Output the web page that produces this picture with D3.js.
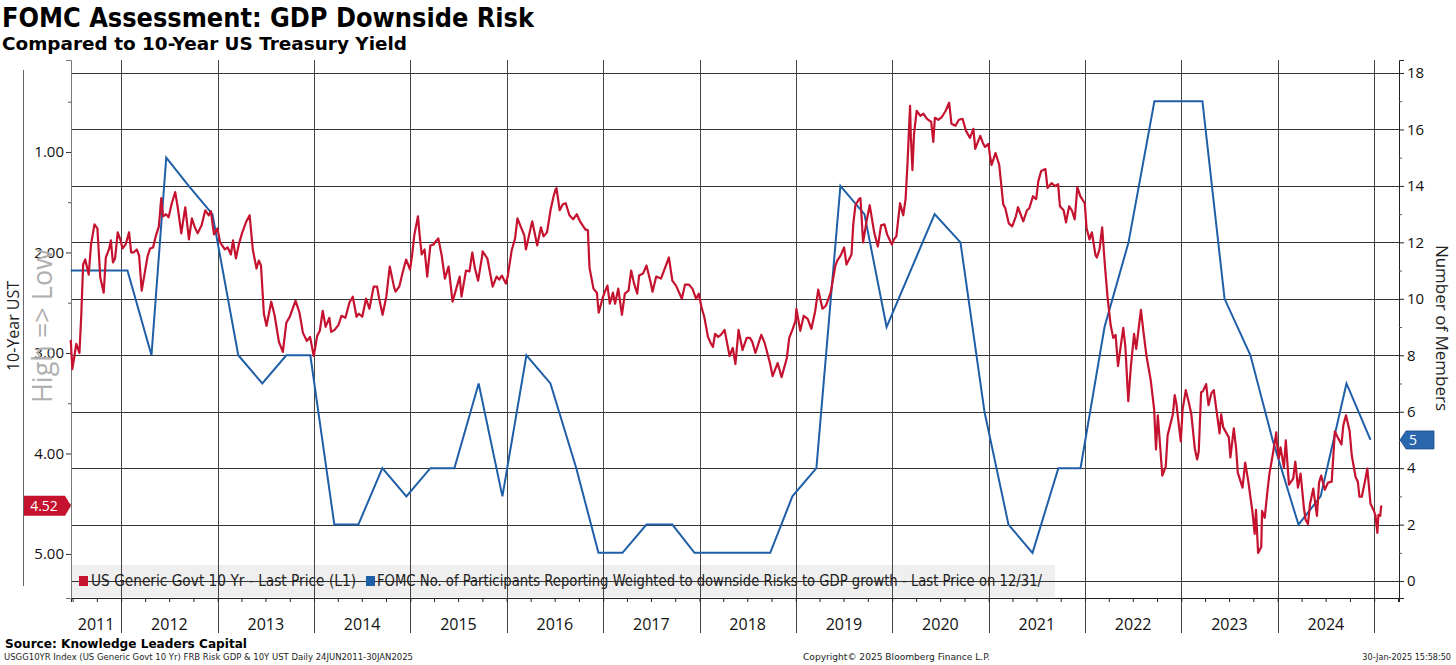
<!DOCTYPE html>
<html>
<head>
<meta charset="utf-8">
<script src="https://cdn.jsdelivr.net/npm/d3@7"></script>
<style>
  body { margin: 0; background: #fff; }
</style>
</head>
<body>
<div id="d3-container"></div>
<script>
// 10-year UST yield (date, % yield)
const yld2011 = [["2011-06-24",2.87],["2011-06-30",3.16],["2011-07-08",3.03],["2011-07-15",2.91],["2011-07-27",3.00],["2011-08-03",2.62],["2011-08-10",2.12],["2011-08-18",2.07],["2011-08-31",2.22],["2011-09-09",1.92],["2011-09-22",1.72],["2011-10-03",1.76],["2011-10-14",2.25],["2011-10-27",2.40],["2011-11-04",2.05],["2011-11-17",1.96],["2011-11-23",1.88],["2011-12-01",2.10],["2011-12-09",2.06],["2011-12-19",1.80],["2011-12-30",1.88]];
const yld2012 = [["2012-01-06",1.96],["2012-01-18",1.92],["2012-01-31",1.80],["2012-02-08",2.00],["2012-02-17",2.00],["2012-02-29",1.97],["2012-03-09",2.03],["2012-03-19",2.38],["2012-03-30",2.21],["2012-04-10",2.04],["2012-04-20",1.96],["2012-05-01",1.95],["2012-05-11",1.84],["2012-05-23",1.74],["2012-06-01",1.46],["2012-06-08",1.64],["2012-06-19",1.62],["2012-06-29",1.65],["2012-07-11",1.51],["2012-07-24",1.40],["2012-08-03",1.56],["2012-08-16",1.81],["2012-08-31",1.55],["2012-09-14",1.87],["2012-09-25",1.66],["2012-10-05",1.74],["2012-10-17",1.81],["2012-11-01",1.73],["2012-11-15",1.58],["2012-11-28",1.63],["2012-12-06",1.59],["2012-12-18",1.82],["2012-12-31",1.76]];
const yld2013 = [["2013-01-10",1.90],["2013-01-28",1.97],["2013-02-08",1.95],["2013-02-20",2.02],["2013-02-28",1.88],["2013-03-11",2.06],["2013-03-22",1.92],["2013-04-03",1.81],["2013-04-18",1.70],["2013-05-02",1.63],["2013-05-14",1.97],["2013-05-28",2.16],["2013-06-06",2.08],["2013-06-14",2.13],["2013-06-25",2.61],["2013-07-05",2.73],["2013-07-23",2.49],["2013-08-05",2.63],["2013-08-21",2.89],["2013-09-05",2.99],["2013-09-18",2.70],["2013-10-01",2.64],["2013-10-23",2.48],["2013-11-07",2.60],["2013-11-20",2.80],["2013-12-05",2.88],["2013-12-17",2.84],["2013-12-31",3.03]];
const yld2014 = [["2014-01-13",2.83],["2014-01-23",2.78],["2014-02-03",2.58],["2014-02-14",2.74],["2014-02-28",2.65],["2014-03-07",2.79],["2014-03-20",2.77],["2014-04-04",2.72],["2014-04-15",2.63],["2014-04-30",2.65],["2014-05-15",2.50],["2014-05-28",2.44],["2014-06-11",2.64],["2014-06-20",2.61],["2014-07-03",2.64],["2014-07-17",2.46],["2014-07-30",2.56],["2014-08-15",2.34],["2014-08-28",2.34],["2014-09-05",2.46],["2014-09-18",2.62],["2014-10-02",2.44],["2014-10-15",2.14],["2014-10-31",2.34],["2014-11-06",2.39],["2014-11-20",2.34],["2014-12-01",2.22],["2014-12-16",2.07],["2014-12-31",2.17]];
const yld2015 = [["2015-01-08",2.02],["2015-01-16",1.83],["2015-01-30",1.64],["2015-02-05",1.82],["2015-02-13",2.02],["2015-02-24",1.97],["2015-03-06",2.24],["2015-03-18",1.93],["2015-03-31",1.92],["2015-04-07",1.89],["2015-04-17",1.86],["2015-04-30",2.03],["2015-05-12",2.26],["2015-05-26",2.14],["2015-06-10",2.49],["2015-06-22",2.38],["2015-07-07",2.24],["2015-07-14",2.44],["2015-07-31",2.18],["2015-08-13",2.19],["2015-08-24",2.00],["2015-09-03",2.16],["2015-09-15",2.28],["2015-09-30",2.04],["2015-10-02",1.99],["2015-10-20",2.06],["2015-11-09",2.34],["2015-11-24",2.24],["2015-12-04",2.27],["2015-12-14",2.23],["2015-12-29",2.31]];
const yld2016 = [["2016-01-05",2.24],["2016-01-20",1.98],["2016-02-02",1.86],["2016-02-11",1.66],["2016-02-23",1.74],["2016-03-08",1.83],["2016-03-14",1.97],["2016-03-31",1.77],["2016-04-07",1.69],["2016-04-26",1.93],["2016-05-10",1.75],["2016-05-20",1.84],["2016-06-02",1.80],["2016-06-16",1.57],["2016-06-27",1.44],["2016-07-05",1.37],["2016-07-08",1.36],["2016-07-20",1.58],["2016-08-01",1.52],["2016-08-12",1.51],["2016-08-26",1.63],["2016-09-09",1.67],["2016-09-23",1.62],["2016-10-05",1.69],["2016-10-25",1.77],["2016-11-04",1.78],["2016-11-10",2.15],["2016-11-25",2.36],["2016-12-08",2.40],["2016-12-15",2.60],["2016-12-30",2.45]];
const yld2017 = [["2017-01-09",2.38],["2017-01-17",2.33],["2017-01-26",2.51],["2017-02-07",2.40],["2017-02-15",2.51],["2017-02-27",2.36],["2017-03-13",2.62],["2017-03-24",2.41],["2017-04-07",2.38],["2017-04-17",2.18],["2017-04-27",2.30],["2017-05-10",2.41],["2017-05-17",2.23],["2017-06-01",2.21],["2017-06-14",2.13],["2017-06-30",2.30],["2017-07-07",2.39],["2017-07-21",2.24],["2017-08-08",2.26],["2017-08-18",2.19],["2017-09-07",2.05],["2017-09-20",2.28],["2017-10-04",2.33],["2017-10-26",2.46],["2017-11-07",2.32],["2017-11-22",2.32],["2017-12-05",2.36],["2017-12-19",2.46],["2017-12-29",2.41]];
const yld2018 = [["2018-01-09",2.55],["2018-01-19",2.64],["2018-02-02",2.84],["2018-02-14",2.91],["2018-02-21",2.94],["2018-03-01",2.81],["2018-03-13",2.84],["2018-03-23",2.82],["2018-04-06",2.77],["2018-04-25",3.03],["2018-05-07",2.95],["2018-05-17",3.11],["2018-05-29",2.77],["2018-06-13",2.97],["2018-06-29",2.85],["2018-07-11",2.85],["2018-07-20",2.89],["2018-08-01",3.00],["2018-08-23",2.82],["2018-09-05",2.90],["2018-09-25",3.10],["2018-10-05",3.23],["2018-10-24",3.10],["2018-11-08",3.24],["2018-11-28",3.05],["2018-12-07",2.85],["2018-12-19",2.77],["2018-12-31",2.68]];
const yld2019 = [["2019-01-03",2.56],["2019-01-18",2.78],["2019-01-31",2.63],["2019-02-15",2.66],["2019-03-01",2.76],["2019-03-15",2.59],["2019-03-27",2.37],["2019-04-12",2.56],["2019-04-25",2.53],["2019-05-13",2.40],["2019-05-31",2.13],["2019-06-07",2.08],["2019-06-20",2.03],["2019-07-03",1.95],["2019-07-12",2.12],["2019-07-31",2.02],["2019-08-07",1.71],["2019-08-15",1.53],["2019-08-28",1.47],["2019-09-03",1.46],["2019-09-13",1.90],["2019-09-26",1.69],["2019-10-08",1.53],["2019-10-25",1.80],["2019-11-08",1.94],["2019-11-20",1.73],["2019-12-03",1.72],["2019-12-13",1.82],["2019-12-31",1.92]];
const yld2020 = [["2020-01-08",1.87],["2020-01-17",1.84],["2020-01-31",1.51],["2020-02-12",1.63],["2020-02-21",1.47],["2020-02-28",1.13],["2020-03-06",0.71],["2020-03-09",0.54],["2020-03-12",0.85],["2020-03-18",1.18],["2020-03-24",0.82],["2020-04-03",0.59],["2020-04-17",0.64],["2020-04-29",0.62],["2020-05-12",0.67],["2020-05-28",0.70],["2020-06-05",0.90],["2020-06-11",0.66],["2020-06-24",0.68],["2020-07-08",0.65],["2020-07-22",0.59],["2020-08-04",0.51],["2020-08-13",0.72],["2020-08-28",0.74],["2020-09-10",0.68],["2020-09-24",0.67],["2020-10-07",0.79],["2020-10-22",0.86],["2020-11-04",0.77],["2020-11-11",0.97],["2020-11-30",0.84],["2020-12-10",0.91],["2020-12-18",0.95],["2020-12-31",0.92]];
const yld2021 = [["2021-01-06",1.04],["2021-01-12",1.13],["2021-01-27",1.01],["2021-02-10",1.13],["2021-02-25",1.52],["2021-03-05",1.56],["2021-03-18",1.71],["2021-03-31",1.74],["2021-04-14",1.64],["2021-04-22",1.55],["2021-05-12",1.69],["2021-05-26",1.58],["2021-06-04",1.56],["2021-06-18",1.44],["2021-06-30",1.47],["2021-07-08",1.29],["2021-07-19",1.19],["2021-08-04",1.17],["2021-08-12",1.36],["2021-08-27",1.31],["2021-09-10",1.34],["2021-09-21",1.32],["2021-09-28",1.54],["2021-10-12",1.58],["2021-10-21",1.70],["2021-11-02",1.54],["2021-11-12",1.58],["2021-11-23",1.67],["2021-12-03",1.35],["2021-12-14",1.44],["2021-12-31",1.51]];
const yld2022 = [["2022-01-07",1.76],["2022-01-18",1.87],["2022-01-27",1.80],["2022-02-10",2.03],["2022-02-15",2.05],["2022-02-25",1.97],["2022-03-07",1.75],["2022-03-18",2.15],["2022-03-28",2.46],["2022-04-08",2.72],["2022-04-18",2.85],["2022-04-27",2.82],["2022-05-06",3.13],["2022-05-26",2.75],["2022-06-03",2.94],["2022-06-14",3.48],["2022-06-24",3.13],["2022-07-06",2.81],["2022-07-14",2.96],["2022-08-01",2.57],["2022-08-10",2.78],["2022-08-22",3.03],["2022-09-07",3.27],["2022-09-20",3.56],["2022-09-27",3.96],["2022-10-04",3.62],["2022-10-21",4.22],["2022-11-03",4.13],["2022-11-10",3.82],["2022-11-30",3.61],["2022-12-07",3.42],["2022-12-13",3.50],["2022-12-30",3.88]];
const yld2023 = [["2023-01-06",3.56],["2023-01-18",3.37],["2023-01-31",3.51],["2023-02-08",3.61],["2023-02-21",3.95],["2023-03-02",4.06],["2023-03-08",3.98],["2023-03-17",3.39],["2023-03-24",3.38],["2023-04-05",3.31],["2023-04-14",3.52],["2023-04-25",3.40],["2023-05-04",3.37],["2023-05-26",3.80],["2023-06-01",3.61],["2023-06-09",3.74],["2023-06-30",3.84],["2023-07-06",4.04],["2023-07-19",3.75],["2023-07-28",3.96],["2023-08-03",4.19],["2023-08-21",4.34],["2023-08-31",4.09],["2023-09-12",4.28],["2023-09-28",4.59],["2023-10-06",4.80],["2023-10-11",4.56],["2023-10-19",4.99],["2023-10-31",4.93],["2023-11-03",4.57],["2023-11-13",4.64],["2023-11-22",4.41],["2023-12-01",4.20],["2023-12-13",4.02],["2023-12-27",3.79],["2023-12-29",3.88]];
const yld2024 = [["2024-01-05",4.05],["2024-01-12",3.94],["2024-01-25",4.14],["2024-02-01",3.87],["2024-02-13",4.31],["2024-02-29",4.25],["2024-03-08",4.08],["2024-03-18",4.34],["2024-03-28",4.20],["2024-04-10",4.55],["2024-04-16",4.66],["2024-04-25",4.70],["2024-05-03",4.50],["2024-05-15",4.35],["2024-05-29",4.62],["2024-06-06",4.29],["2024-06-14",4.22],["2024-06-28",4.36],["2024-07-10",4.29],["2024-07-24",4.28],["2024-08-05",3.78],["2024-08-14",3.83],["2024-08-30",3.91],["2024-09-06",3.72],["2024-09-16",3.62],["2024-09-30",3.78],["2024-10-08",4.02],["2024-10-23",4.24],["2024-10-31",4.28],["2024-11-06",4.43],["2024-11-15",4.43],["2024-11-26",4.29],["2024-12-06",4.15],["2024-12-18",4.50],["2024-12-31",4.57]];
const yld2025 = [["2025-01-06",4.62],["2025-01-13",4.79],["2025-01-17",4.61],["2025-01-24",4.62],["2025-01-27",4.53],["2025-01-30",4.52]];

// FOMC participants seeing GDP risks weighted to the downside (per SEP)
const fomcRisk = [["2011-06-24",11],["2011-11-02",11],["2012-01-25",11],["2012-04-25",8],["2012-06-20",15],["2012-09-13",14],["2012-12-12",13],
  ["2013-03-20",8],["2013-06-19",7],["2013-09-18",8],["2013-12-18",8],["2014-03-19",2],["2014-06-18",2],["2014-09-17",4],["2014-12-17",3],
  ["2015-03-18",4],["2015-06-17",4],["2015-09-17",7],["2015-12-16",3],["2016-03-16",8],["2016-06-15",7],["2016-09-21",4],["2016-12-14",1],
  ["2017-03-15",1],["2017-06-14",2],["2017-09-20",2],["2017-12-13",1],["2018-03-21",1],["2018-06-13",1],["2018-09-26",1],["2018-12-19",3],
  ["2019-03-20",4],["2019-06-19",14],["2019-09-18",13],["2019-12-11",9],["2020-06-10",13],["2020-09-16",12],["2020-12-16",6],
  ["2021-03-17",2],["2021-06-16",1],["2021-09-22",4],["2021-12-15",4],["2022-03-16",9],["2022-06-15",12],["2022-09-21",17],["2022-12-14",17],
  ["2023-03-22",17],["2023-06-14",10],["2023-09-20",8],["2023-12-13",5],["2024-03-20",2],["2024-06-12",3],["2024-09-18",7],["2024-12-18",5]];

const years = [2011, 2012, 2013, 2014, 2015, 2016, 2017, 2018, 2019, 2020, 2021, 2022, 2023, 2024];
const yieldTicks = [1, 2, 3, 4, 5];
const yieldMinor = [0.5, 1.5, 2.5, 3.5, 4.5];
const memberTicks = [0, 2, 4, 6, 8, 10, 12, 14, 16, 18];
const memberMinor = [1, 3, 5, 7, 9, 11, 13, 15, 17];
const lastYield = 4.52;
const lastMembers = 5;

const width = 1456;
const height = 665;
const plot = { left: 71, right: 1399, top: 60, bottom: 598 };
const sans = "'Open Sans', 'Noto Sans', sans-serif";
const narrow = "'Liberation Sans Narrow', 'DejaVu Sans Condensed', 'Open Sans', sans-serif";

const parse = d3.timeParse("%Y-%m-%d");
const yields = [].concat(yld2011, yld2012, yld2013, yld2014, yld2015, yld2016, yld2017,
  yld2018, yld2019, yld2020, yld2021, yld2022, yld2023, yld2024, yld2025)
  .map(d => ({ date: parse(d[0]), value: d[1] }));
const members = fomcRisk.map(d => ({ date: parse(d[0]), value: d[1] }));

const svg = d3.select('#d3-container')
  .append('svg')
  .attr('width', width)
  .attr('height', height)
  .attr("viewBox", [0, 0, width, height])
  .attr("font-family", sans);

const x = d3.scaleTime()
  .domain([new Date(2011, 5, 25), new Date(2025, 3, 5)])
  .range([plot.left, plot.right]);

// left axis is inverted: high yield at the bottom
const yL = d3.scaleLinear().domain([0.085, 5.438]).range([plot.top, plot.bottom]);
const yR = d3.scaleLinear().domain([18.46, -0.6]).range([plot.top, plot.bottom]);

// legend background (under the grid)
svg.append("rect")
  .attr("x", plot.left).attr("y", 565)
  .attr("width", 984).attr("height", 32)
  .attr("fill", "#efefef");

// horizontal grid from right axis
svg.append("g")
  .attr("stroke", "#333").attr("stroke-width", 1).attr("shape-rendering", "crispEdges")
  .selectAll("line")
  .data(memberTicks)
  .join("line")
  .attr("x1", plot.left).attr("x2", plot.right)
  .attr("y1", d => Math.round(yR(d)) + 0.5).attr("y2", d => Math.round(yR(d)) + 0.5);

// vertical year lines, run down through the labels
const yearStarts = years.slice(1).concat([2025]).map(y => new Date(y, 0, 1));
svg.append("g")
  .attr("stroke", "#444").attr("stroke-width", 1).attr("shape-rendering", "crispEdges")
  .selectAll("line")
  .data(yearStarts)
  .join("line")
  .attr("x1", d => Math.round(x(d)) + 0.5).attr("x2", d => Math.round(x(d)) + 0.5)
  .attr("y1", plot.top).attr("y2", 633);

// axes
function xAxis(g) {
  g.attr("transform", `translate(0,${plot.bottom})`)
    .call(d3.axisBottom(x).ticks(d3.timeMonth.every(3)).tickSize(4).tickFormat(""))
    .call(g => g.select(".domain").attr("stroke", "#222"))
    .call(g => g.selectAll(".tick line").attr("stroke", "#222"));
}
function yAxisLeft(g) {
  g.attr("transform", `translate(${plot.left},0)`)
    .call(d3.axisLeft(yL).tickValues(yieldTicks).tickFormat(d3.format(".2f")).tickSize(5).tickPadding(2))
    .attr("font-size", "15px").attr("font-family", sans)
    .call(g => g.select(".domain").attr("stroke", "#777"))
    .call(g => g.selectAll(".tick line").attr("stroke", "#333"))
    .call(g => g.selectAll(".tick text").attr("fill", "#111"));
}
function yAxisLeftMinor(g) {
  g.attr("transform", `translate(${plot.left},0)`)
    .call(d3.axisLeft(yL).tickValues(yieldMinor).tickFormat("").tickSize(3))
    .call(g => g.select(".domain").remove())
    .call(g => g.selectAll(".tick line").attr("stroke", "#555"));
}
function yAxisRight(g) {
  g.attr("transform", `translate(${plot.right},0)`)
    .call(d3.axisRight(yR).tickValues(memberTicks).tickSize(5).tickPadding(3))
    .attr("font-size", "15px").attr("font-family", sans)
    .call(g => g.select(".domain").attr("stroke", "#222"))
    .call(g => g.selectAll(".tick line").attr("stroke", "#222"))
    .call(g => g.selectAll(".tick text").attr("fill", "#111"));
}
function yAxisRightMinor(g) {
  g.attr("transform", `translate(${plot.right},0)`)
    .call(d3.axisRight(yR).tickValues(memberMinor).tickFormat("").tickSize(3))
    .call(g => g.select(".domain").remove())
    .call(g => g.selectAll(".tick line").attr("stroke", "#555"));
}
svg.append("g").call(xAxis);
svg.append("g").call(yAxisLeft);
svg.append("g").call(yAxisLeftMinor);
svg.append("g").call(yAxisRight);
svg.append("g").call(yAxisRightMinor);

// year labels centred in each year
svg.append("g")
  .attr("font-size", "16px").attr("fill", "#111").attr("text-anchor", "middle")
  .selectAll("text")
  .data(years)
  .join("text")
  .attr("x", y => (Math.max(x(new Date(y, 0, 1)), plot.left) + x(new Date(y + 1, 0, 1))) / 2)
  .attr("y", 630)
  .text(y => y);

// series
const lineR = d3.line().x(d => x(d.date)).y(d => yR(d.value));
const lineL = d3.line().x(d => x(d.date)).y(d => yL(d.value));

svg.append("path")
  .datum(members)
  .attr("fill", "none").attr("stroke", "#1f5fa8").attr("stroke-width", 2)
  .attr("stroke-linejoin", "miter")
  .attr("d", lineR);

svg.append("path")
  .datum(yields)
  .attr("fill", "none").attr("stroke", "#c4122f").attr("stroke-width", 2.2)
  .attr("stroke-linejoin", "round")
  .attr("d", lineL);

// legend text
const legend = svg.append("g").attr("font-size", "15px")
  .attr("font-family", narrow)
  .attr("fill", "#222");
legend.append("rect").attr("x", 79).attr("y", 576).attr("width", 9).attr("height", 10).attr("fill", "#c4122f");
legend.append("text").attr("x", 91).attr("y", 586).attr("textLength", 265).attr("lengthAdjust", "spacingAndGlyphs")
  .text("US Generic Govt 10 Yr - Last Price (L1)");
legend.append("rect").attr("x", 366).attr("y", 576).attr("width", 9).attr("height", 10).attr("fill", "#1f5fa8");
legend.append("text").attr("x", 377).attr("y", 586).attr("textLength", 665).attr("lengthAdjust", "spacingAndGlyphs")
  .text("FOMC No. of Participants Reporting Weighted to downside Risks to GDP growth - Last Price on 12/31/");

// last value tags
const ty = yL(lastYield);
svg.append("path")
  .attr("d", `M23,${ty - 10}H65L71,${ty}L65,${ty + 10}H23Z`)
  .attr("fill", "#c4122f");
svg.append("text").attr("x", 44).attr("y", ty + 5).attr("text-anchor", "middle")
  .attr("font-size", "14px").attr("fill", "#fff").text(lastYield.toFixed(2));

const my = yR(lastMembers);
svg.append("path")
  .attr("d", `M1400,${my}L1406,${my - 9}H1434V${my + 9}H1406Z`)
  .attr("fill", "#2a67ad").attr("stroke", "#1a4f8a").attr("stroke-width", 0.8);
svg.append("text").attr("x", 1413).attr("y", my + 5).attr("text-anchor", "middle")
  .attr("font-size", "14px").attr("fill", "#fff").text(lastMembers);

// axis titles
svg.append("line").attr("x1", 23.5).attr("x2", 23.5).attr("y1", 70).attr("y2", 586)
  .attr("stroke", "#666").attr("stroke-width", 1);
svg.append("text").attr("transform", "translate(19,326) rotate(-90)").attr("text-anchor", "middle")
  .attr("font-size", "16px").attr("fill", "#222").text("10-Year UST");
svg.append("text").attr("transform", "translate(52,326) rotate(-90)").attr("text-anchor", "middle")
  .attr("font-size", "27px").attr("fill", "#b0b0b0").text("High => Low");
svg.append("text").attr("transform", "translate(1436,328) rotate(90)").attr("text-anchor", "middle")
  .attr("font-size", "17px").attr("fill", "#222").text("Number of Members");

// titles
svg.append("text").attr("x", 2).attr("y", 27).attr("font-family", "'DejaVu Sans', sans-serif").attr("font-weight", "bold")
  .attr("font-size", "26px").attr("fill", "#000").attr("textLength", 532).attr("lengthAdjust", "spacingAndGlyphs")
  .text("FOMC Assessment: GDP Downside Risk");
svg.append("text").attr("x", 2).attr("y", 50).attr("font-family", "'DejaVu Sans', sans-serif").attr("font-weight", "bold")
  .attr("font-size", "17px").attr("fill", "#000").attr("textLength", 405).attr("lengthAdjust", "spacingAndGlyphs")
  .text("Compared to 10-Year US Treasury Yield");

// footer
svg.append("text").attr("x", 5).attr("y", 648).attr("font-family", "'DejaVu Sans', sans-serif").attr("font-weight", "bold")
  .attr("font-size", "13px").attr("fill", "#000").attr("textLength", 242).attr("lengthAdjust", "spacingAndGlyphs")
  .text("Source: Knowledge Leaders Capital");
const foot = svg.append("g").attr("font-size", "9px").attr("font-family", narrow).attr("fill", "#222");
foot.append("text").attr("x", 4).attr("y", 660).attr("textLength", 409).attr("lengthAdjust", "spacingAndGlyphs")
  .text("USGG10YR Index (US Generic Govt 10 Yr) FRB Risk GDP & 10Y UST  Daily 24JUN2011-30JAN2025");
foot.append("text").attr("x", 803).attr("y", 660).attr("textLength", 187).attr("lengthAdjust", "spacingAndGlyphs")
  .text("Copyright© 2025 Bloomberg Finance L.P.");
foot.append("text").attr("x", 1451).attr("y", 660).attr("text-anchor", "end")
  .text("30-Jan-2025 15:58:50");

svg.node();
</script>
</body>
</html>
